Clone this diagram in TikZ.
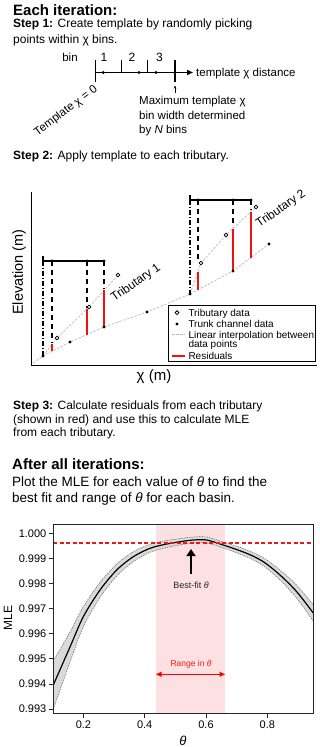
\documentclass[tikz,border=0pt]{standalone}
\usepackage{fontspec}
\setmainfont{Liberation Sans}
\usetikzlibrary{arrows.meta}
\definecolor{bandpink}{RGB}{253,224,226}
\definecolor{bandgray}{RGB}{218,218,218}
\definecolor{interp}{RGB}{185,185,185}
\definecolor{resred}{RGB}{245,15,15}
\definecolor{dashred}{RGB}{240,20,20}
\tikzset{
  lbl/.style={inner sep=0pt, anchor=base west},
  ttl/.style={lbl, font=\fontsize{15}{18}\selectfont\bfseries},
  body/.style={lbl, font=\fontsize{12}{14}\selectfont},
  bodyb/.style={lbl, font=\fontsize{13.5}{16}\selectfont},
  small/.style={inner sep=0pt, font=\fontsize{11.5}{13}\selectfont},
  leg/.style={lbl, font=\fontsize{10}{12}\selectfont},
  ticklbl/.style={inner sep=0pt, font=\fontsize{11}{13}\selectfont},
  dotf/.style={circle, fill=black, inner sep=0pt, minimum size=3.4pt},
  doto/.style={circle, draw=black, fill=white, line width=0.8pt, inner sep=0pt, minimum size=3.8pt},
  interpline/.style={draw=interp, line width=0.7pt, dash pattern=on 2.5pt off 1.5pt},
  resid/.style={draw=resred, line width=1.4pt},
  vdash/.style={draw=black, line width=1.2pt, dash pattern=on 5pt off 4pt},
  vdashdot/.style={draw=black, line width=1.1pt, dash pattern=on 5pt off 2pt on 1pt off 2pt},
  tmpl/.style={draw=black, line width=1.5pt},
}
\begin{document}
\begin{tikzpicture}[x=1pt,y=-1pt]
\useasboundingbox (0,0) rectangle (320,747);

% ---------- Step 1 ----------
\node[ttl] (title1) at (13,15) {Each iteration:};
\node[body] (s1a) at (13,27.5) {\textbf{Step 1:} Create template by randomly picking};
\node[body] (s1b) at (13,43) {points within χ bins.};

\draw[line width=1.3pt, -{Triangle[length=6pt,width=5pt]}] (95.5,72.5) -- (193,72.5);
\draw[line width=1.1pt] (95.5,60) -- (95.5,82);
\draw[line width=1.1pt] (121.7,60) -- (121.7,72.5);
\draw[line width=1.1pt] (147.7,60) -- (147.7,72.5);
\draw[line width=1.1pt] (175,60) -- (175,82);
\node[dotf] (bd1) at (103.3,72.5) {};
\node[dotf] (bd2) at (139,72.5) {};
\node[dotf] (bd3) at (156,72.5) {};
\node[small, font=\fontsize{12}{14}\selectfont] (bn1) at (104,57) {1};
\node[small, font=\fontsize{12}{14}\selectfont] (bn2) at (132,57) {2};
\node[small, font=\fontsize{12}{14}\selectfont] (bn3) at (159.5,57) {3};
\node[small] (binlbl) at (70,57) {bin};
\node[small, anchor=base west] (tdist) at (196,76) {template χ distance};
\node[small, rotate=37] (tzero) at (66,111) {Template χ = 0};
\coordinate (marrow0) at (175,93);
\coordinate (marrow1) at (175,85.5);
\draw[line width=0.5pt, -{Stealth[length=3pt,width=2.5pt]}] (marrow0) -- (marrow1);
\node[small, anchor=base west] (max1) at (139,104.5) {Maximum template χ};
\node[small, anchor=base west] (max2) at (139,119) {bin width determined};
\node[small, anchor=base west] (max3) at (139,133.5) {by \textit{N} bins};

% ---------- Step 2 ----------
\node[body] (s2) at (13,159.5) {\textbf{Step 2:} Apply template to each tributary.};

\draw[line width=1.4pt] (31.5,192) -- (31.5,365.5) -- (317,365.5);
\node[inner sep=0pt, rotate=90, font=\fontsize{14.5}{17}\selectfont] (ylab) at (19,272) {Elevation (m)};
\node[inner sep=0pt, font=\fontsize{15}{17}\selectfont] (xlab) at (154,377) {χ (m)};

% trunk
\coordinate (T0) at (43,356);
\coordinate (T1) at (70,342);
\coordinate (T2) at (104,327);
\coordinate (T3) at (147,312);
\coordinate (T4) at (190,294);
\coordinate (T5) at (233,271);
\coordinate (T6) at (269,244);
\coordinate (Tstart) at (33,363);
% tributaries
\coordinate (A1) at (57,338);
\coordinate (A2) at (89,307);
\coordinate (A3) at (118,275);
\coordinate (B1) at (201,263);
\coordinate (B2) at (226,235);
\coordinate (B3) at (256,207);

\draw[interpline] (Tstart) -- (T0) -- (T1) -- (T2) -- (T3) -- (T4) -- (T5) -- (T6);
\draw[interpline] (T0) -- (A1) -- (A2) -- (A3);
\draw[interpline] (T4) -- (B1) -- (B2) -- (B3);

% template 1
\draw[vdashdot] (43,261) -- (T0);
\draw[tmpl] (43,256) -- (43,261) -- (104,261);
\draw[vdash] (52,261) -- (52,343);
\draw[vdash] (87,261) -- (87,308);
\draw[vdash] (104,261) -- (104,289);
\draw[resid] (52,344.4) -- (52,351.3);
\draw[resid] (87,309) -- (87,334.5);
\draw[resid] (104,290.4) -- (104,327);
\node[dotf] (p1a) at (52,261) {};
\node[dotf] (p1b) at (87,261) {};
\node[dotf] (p1c) at (104,261) {};

% template 2
\draw[vdashdot] (190,200) -- (T4);
\draw[tmpl] (190,195) -- (190,200) -- (251,200);
\draw[vdash] (198,200) -- (198,262);
\draw[vdash] (233,200) -- (233,227);
\draw[vdash] (251,200) -- (251,210);
\draw[resid] (198,272) -- (198,289.7);
\draw[resid] (233,228.5) -- (233,271);
\draw[resid] (251,211.7) -- (251,257.5);
\node[dotf] (p2a) at (198,200) {};
\node[dotf] (p2b) at (233,200) {};
\node[dotf] (p2c) at (251,200) {};

% markers
\foreach \p in {T0,T1,T2,T3,T4,T5,T6} \node[dotf] at (\p) {};
\foreach \p in {A1,A2,A3,B1,B2,B3} \node[doto] at (\p) {};

\node[inner sep=0pt, rotate=35, font=\fontsize{12}{14}\selectfont] (trib1) at (136,283) {Tributary 1};
\node[inner sep=0pt, rotate=35, font=\fontsize{12}{14}\selectfont] (trib2) at (281,209) {Tributary 2};

% legend
\draw[line width=1pt, fill=white] (168.3,305.7) rectangle (315,361);
\node[doto] (lg1) at (177,312.7) {};
\node[dotf] (lg2) at (177,324) {};
\draw[interpline] (172,334.3) -- (185,334.3);
\fill[resred] (172,355) rectangle (185,357);
\node[leg] (lt1) at (188.3,316.3) {Tributary data};
\node[leg] (lt2) at (188.3,327.6) {Trunk channel data};
\node[leg] (lt3) at (188.3,338) {Linear interpolation between};
\node[leg] (lt4) at (188.3,347.3) {data points};
\node[leg] (lt5) at (188.3,359.3) {Residuals};

% ---------- Step 3 ----------
\node[body] (s3a) at (13,409.5) {\textbf{Step 3:} Calculate residuals from each tributary};
\node[body] (s3b) at (13,423) {(shown in red) and use this to calculate MLE};
\node[body] (s3c) at (13,436.7) {from each tributary.};

\node[ttl] (title2) at (12,469.3) {After all iterations:};
\node[bodyb] (pa) at (12,486.7) {Plot the MLE for each value of \textit{θ} to find the};
\node[bodyb] (pb) at (12,502.3) {best fit and range of \textit{θ} for each basin.};

% ---------- MLE plot ----------
\begin{scope}
\clip (53.3,524.7) rectangle (313.3,713);
\fill[bandpink] (156,524.7) rectangle (225,713);
\fill[bandgray] plot[smooth] coordinates {(53.3,661) (70,632) (83.3,606.7) (100,582.5) (116.7,564) (133.3,551.7) (150,544.3) (166.7,540.5) (186.7,537.7) (193.3,537) (206.7,537) (223.3,542) (246.7,549.8) (263.3,557.7) (280,570) (296.7,585.2) (313.3,605)}
 -- plot[smooth] coordinates {(313.3,621) (296.7,598.2) (280,580) (263.3,565.7) (246.7,556.8) (223.3,548) (206.7,543) (193.3,543) (186.7,543.7) (166.7,547.5) (150,552.3) (133.3,561.7) (116.7,576) (100,597.5) (83.3,626.7) (70,662) (53.3,709)} -- cycle;
\draw[black!60, line width=0.5pt, dash pattern=on 1.5pt off 1pt] plot[smooth] coordinates {(53.3,661) (70,632) (83.3,606.7) (100,582.5) (116.7,564) (133.3,551.7) (150,544.3) (166.7,540.5) (186.7,537.7) (193.3,537) (206.7,537) (223.3,542) (246.7,549.8) (263.3,557.7) (280,570) (296.7,585.2) (313.3,605)};
\draw[black!60, line width=0.5pt, dash pattern=on 1.5pt off 1pt] plot[smooth] coordinates {(313.3,621) (296.7,598.2) (280,580) (263.3,565.7) (246.7,556.8) (223.3,548) (206.7,543) (193.3,543) (186.7,543.7) (166.7,547.5) (150,552.3) (133.3,561.7) (116.7,576) (100,597.5) (83.3,626.7) (70,662) (53.3,709)};
\draw[line width=1.2pt] plot[smooth] coordinates {(53.3,685) (70,647) (83.3,616.7) (100,590) (116.7,570) (133.3,556.7) (150,548.3) (166.7,544) (186.7,540.7) (193.3,540) (206.7,540) (223.3,545) (246.7,553.3) (263.3,561.7) (280,575) (296.7,591.7) (313.3,613)};
\foreach \xs in {0,...,40} {
  \fill[dashred] (53.3+6.5*\xs,542.2) rectangle (57.3+6.5*\xs,544.2);
}
\end{scope}
\draw[black!85, line width=0.9pt] (53.3,524.7) rectangle (313.3,713);

\foreach \v [count=\k from 0] in {1.000,0.999,0.998,0.997,0.996,0.995,0.994,0.993} {
  \draw[black!85, line width=0.8pt] (53.3,533.5+25.07*\k) -- (49,533.5+25.07*\k);
  \node[ticklbl, anchor=east] (yt\k) at (46.5,533.5+25.07*\k) {\v};
}
\foreach \t/\xx in {0.2/83.4,0.4/144.7,0.6/206,0.8/267.3} {
  \draw[black!85, line width=0.8pt] (\xx,713) -- (\xx,717.5);
  \node[ticklbl, anchor=north] (xt\t) at (\xx,721) {\t};
}
\node[inner sep=0pt, font=\fontsize{13}{15}\selectfont\itshape] (thlab) at (183,741) {θ};
\node[inner sep=0pt, rotate=90, font=\fontsize{12}{14}\selectfont] (mlelab) at (8,618) {MLE};

\coordinate (bfa) at (191,573.5);
\coordinate (bfb) at (191,549);
\draw[line width=2.8pt, -{Triangle[width=9pt,length=7pt]}] (bfa) -- (bfb);
\node[inner sep=0pt, font=\fontsize{9}{11}\selectfont, text=black!85] (bflab) at (191,585) {Best-fit \textit{θ}};
\coordinate (ra) at (156,674.3);
\coordinate (rb) at (225,674.3);
\draw[draw=red, line width=1pt, {Triangle[width=5pt,length=5.5pt]}-{Triangle[width=5pt,length=5.5pt]}] (ra) -- (rb);
\node[inner sep=0pt, font=\fontsize{8.5}{10}\selectfont, text=red!90] (rlab) at (191,664) {Range in \textit{θ}};
\end{tikzpicture}
\end{document}
